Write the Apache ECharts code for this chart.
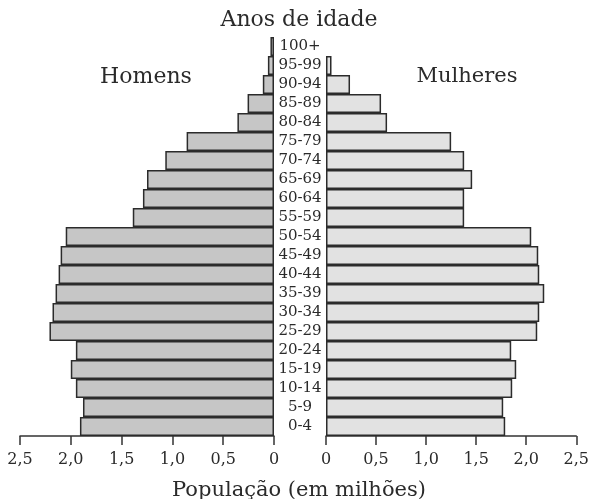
<!DOCTYPE html>
<html>
<head>
<meta charset="utf-8">
<script src="https://cdn.jsdelivr.net/npm/echarts@6/dist/echarts.min.js"></script>
<style>
html,body{margin:0;padding:0;background:#fff;}
#chart{width:592px;height:499px;}
</style>
</head>
<body>
<div id="chart"></div>
<script>
const ageGroups = ['0-4','5-9','10-14','15-19','20-24','25-29','30-34','35-39','40-44','45-49','50-54','55-59','60-64','65-69','70-74','75-79','80-84','85-89','90-94','95-99','100+'];
const homens   = [1.91,1.88,1.95,2.00,1.95,2.21,2.18,2.15,2.12,2.10,2.05,1.39,1.29,1.25,1.07,0.86,0.36,0.26,0.11,0.06,0.035];
const mulheres = [1.79,1.77,1.86,1.90,1.85,2.11,2.13,2.18,2.13,2.12,2.05,1.38,1.38,1.46,1.38,1.25,0.61,0.55,0.24,0.055,0];
const xMin = 0, xMax = 2.5, xStep = 0.5;
const titleText = 'Anos de idade';
const leftLabel = 'Homens';
const rightLabel = 'Mulheres';
const xAxisName = 'População (em milhões)';

const FONT = 'DejaVu Serif';
const TXT = '#2a2a2a';
const fmt = v => v === 0 ? '0' : v.toFixed(1).replace('.', ',');
const toItems = arr => arr.map(v => v === 0 ? {value:0, itemStyle:{borderWidth:0}} : v);

const chart = echarts.init(document.getElementById('chart'), null, {renderer:'canvas'});
const xAxisCommon = {
  type:'value', min:xMin, max:xMax, interval:xStep,
  axisLine:{show:true, lineStyle:{color:'#333', width:1.5}},
  axisTick:{show:true, length:9, lineStyle:{color:'#333', width:1.5}},
  axisLabel:{formatter:fmt, fontFamily:FONT, fontSize:16, color:TXT, margin:16},
  splitLine:{show:false}
};
chart.setOption({
  animation:false,
  backgroundColor:'#fff',
  grid:[
    {left:20, top:37, width:254, height:399},
    {left:326, top:37, width:253, height:399}
  ],
  xAxis:[
    Object.assign({gridIndex:0, inverse:true}, xAxisCommon),
    Object.assign({gridIndex:1}, xAxisCommon)
  ],
  yAxis:[
    {type:'category', gridIndex:0, data:ageGroups, position:'right',
     axisLine:{show:false}, axisTick:{show:false},
     axisLabel:{align:'center', margin:26, fontFamily:FONT, fontSize:15, color:TXT, interval:0}},
    {type:'category', gridIndex:1, data:ageGroups, show:false}
  ],
  series:[
    {type:'bar', xAxisIndex:0, yAxisIndex:0, data:toItems(homens), barCategoryGap:'0%',
     itemStyle:{color:'#c6c6c6', borderColor:'#2b2b2b', borderWidth:1.5}},
    {type:'bar', xAxisIndex:1, yAxisIndex:1, data:toItems(mulheres), barCategoryGap:'0%',
     itemStyle:{color:'#e2e2e2', borderColor:'#2b2b2b', borderWidth:1.5}}
  ],
  graphic:[
    {type:'text', x:299, y:20, style:{text:titleText, font:'22px "DejaVu Serif"', fill:TXT, textAlign:'center', textVerticalAlign:'middle'}},
    {type:'text', x:146, y:77, style:{text:leftLabel, font:'22px "DejaVu Serif"', fill:TXT, textAlign:'center', textVerticalAlign:'middle'}},
    {type:'text', x:467, y:77, style:{text:rightLabel, font:'21px "DejaVu Serif"', fill:TXT, textAlign:'center', textVerticalAlign:'middle'}},
    {type:'text', x:299, y:491, style:{text:xAxisName, font:'21px "DejaVu Serif"', fill:TXT, textAlign:'center', textVerticalAlign:'middle'}}
  ]
});
</script>
</body>
</html>
